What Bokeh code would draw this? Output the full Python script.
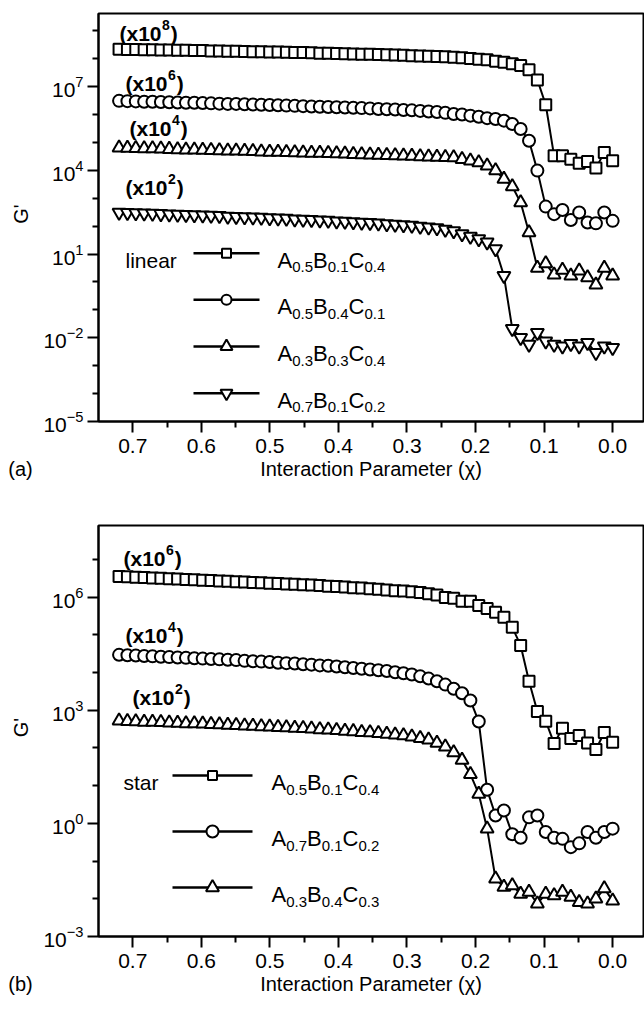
import re
import math
from bokeh.plotting import figure
from bokeh.models import Range1d, FixedTicker, PrintfTickFormatter, Label
from bokeh.layouts import column, row
from bokeh.embed import file_html
from bokeh.resources import INLINE

# ---------------- data ----------------
chi = [0.7200, 0.7078, 0.6956, 0.6834, 0.6712, 0.6590, 0.6468, 0.6346, 0.6224, 0.6102,
       0.5980, 0.5858, 0.5736, 0.5614, 0.5492, 0.5369, 0.5247, 0.5125, 0.5003, 0.4881,
       0.4759, 0.4637, 0.4515, 0.4393, 0.4271, 0.4149, 0.4027, 0.3905, 0.3783, 0.3661,
       0.3539, 0.3417, 0.3295, 0.3173, 0.3051, 0.2929, 0.2807, 0.2685, 0.2563, 0.2441,
       0.2319, 0.2197, 0.2075, 0.1953, 0.1831, 0.1708, 0.1586, 0.1464, 0.1342, 0.1220,
       0.1098, 0.0976, 0.0854, 0.0732, 0.0610, 0.0488, 0.0366, 0.0244, 0.0122, 0.0000]

# panel (a) linear: log10 of shifted G'
logG_lin_A5B1C4 = [8.34, 8.33, 8.33, 8.32, 8.32, 8.31, 8.31, 8.30, 8.30, 8.29,
                   8.29, 8.28, 8.28, 8.27, 8.27, 8.26, 8.25, 8.25, 8.24, 8.24,
                   8.23, 8.22, 8.22, 8.21, 8.20, 8.20, 8.19, 8.18, 8.17, 8.16,
                   8.16, 8.15, 8.14, 8.13, 8.12, 8.11, 8.10, 8.09, 8.08, 8.07,
                   8.05, 8.03, 8.01, 7.98, 7.96, 7.91, 7.87, 7.82, 7.76, 7.60,
                   7.24, 6.35, 4.52, 4.52, 4.40, 4.25, 4.32, 4.08, 4.64, 4.34]
logG_lin_A5B4C1 = [6.49, 6.48, 6.47, 6.46, 6.46, 6.45, 6.44, 6.43, 6.42, 6.42,
                   6.41, 6.40, 6.39, 6.38, 6.38, 6.37, 6.36, 6.35, 6.34, 6.33,
                   6.32, 6.31, 6.30, 6.29, 6.28, 6.27, 6.26, 6.25, 6.24, 6.23,
                   6.22, 6.20, 6.19, 6.18, 6.16, 6.15, 6.13, 6.11, 6.09, 6.06,
                   6.02, 6.00, 5.96, 5.92, 5.87, 5.84, 5.78, 5.66, 5.48, 5.06,
                   3.99, 2.70, 2.43, 2.58, 2.22, 2.49, 2.13, 2.10, 2.49, 2.19]
logG_lin_A3B3C4 = [4.81, 4.80, 4.79, 4.78, 4.78, 4.77, 4.76, 4.75, 4.74, 4.74,
                   4.73, 4.72, 4.71, 4.70, 4.70, 4.69, 4.68, 4.67, 4.66, 4.66,
                   4.65, 4.64, 4.63, 4.62, 4.62, 4.61, 4.60, 4.59, 4.58, 4.57,
                   4.56, 4.55, 4.54, 4.53, 4.52, 4.51, 4.50, 4.49, 4.48, 4.47,
                   4.46, 4.40, 4.34, 4.28, 4.16, 3.99, 3.69, 3.42, 2.85, 1.77,
                   0.50, 0.66, 0.26, 0.43, 0.22, 0.40, 0.16, -0.10, 0.50, 0.22]
logG_lin_A7B1C2 = [2.49, 2.48, 2.47, 2.46, 2.45, 2.44, 2.43, 2.42, 2.41, 2.40,
                   2.39, 2.38, 2.37, 2.35, 2.34, 2.33, 2.32, 2.31, 2.29, 2.28,
                   2.27, 2.25, 2.24, 2.23, 2.21, 2.20, 2.18, 2.17, 2.15, 2.13,
                   2.12, 2.10, 2.08, 2.06, 2.04, 2.02, 1.99, 1.96, 1.93, 1.88,
                   1.83, 1.72, 1.63, 1.54, 1.42, 1.18, 0.22, -1.68, -2.00, -2.24,
                   -1.82, -2.12, -2.24, -2.30, -2.21, -2.30, -2.18, -2.54, -2.30, -2.36]

# panel (b) star: log10 of shifted G'
logG_star_A5B1C4 = [6.55, 6.54, 6.53, 6.52, 6.51, 6.50, 6.49, 6.48, 6.47, 6.46,
                    6.45, 6.44, 6.43, 6.42, 6.41, 6.40, 6.39, 6.38, 6.37, 6.36,
                    6.35, 6.34, 6.33, 6.32, 6.31, 6.29, 6.28, 6.27, 6.25, 6.24,
                    6.22, 6.21, 6.19, 6.17, 6.16, 6.14, 6.12, 6.09, 6.06, 5.99,
                    5.97, 5.89, 5.89, 5.78, 5.70, 5.60, 5.47, 5.20, 4.72, 3.77,
                    2.97, 2.71, 2.12, 2.52, 2.25, 2.33, 2.13, 1.96, 2.41, 2.15]
logG_star_A7B1C2 = [4.47, 4.46, 4.45, 4.44, 4.43, 4.42, 4.41, 4.40, 4.39, 4.38,
                    4.37, 4.36, 4.35, 4.34, 4.33, 4.31, 4.30, 4.29, 4.28, 4.26,
                    4.25, 4.24, 4.22, 4.21, 4.19, 4.18, 4.16, 4.14, 4.12, 4.10,
                    4.08, 4.06, 4.04, 4.01, 3.98, 3.95, 3.90, 3.84, 3.77, 3.68,
                    3.57, 3.45, 3.26, 2.70, 0.89, 0.21, 0.34, -0.29, -0.38, 0.16,
                    0.21, -0.23, -0.38, -0.41, -0.63, -0.53, -0.23, -0.38, -0.23, -0.14]
logG_star_A3B4C3 = [2.72, 2.71, 2.70, 2.69, 2.69, 2.68, 2.67, 2.66, 2.65, 2.65,
                    2.64, 2.63, 2.62, 2.61, 2.60, 2.59, 2.58, 2.57, 2.56, 2.55,
                    2.54, 2.53, 2.52, 2.51, 2.49, 2.48, 2.47, 2.45, 2.44, 2.42,
                    2.41, 2.39, 2.37, 2.35, 2.33, 2.30, 2.26, 2.22, 2.13, 2.03,
                    1.88, 1.68, 1.30, 0.78, -0.14, -1.47, -1.69, -1.65, -1.87, -1.82,
                    -2.13, -1.87, -1.91, -1.82, -1.95, -2.09, -2.13, -2.00, -1.73, -2.05]

x_ticks = [0.0, 0.1, 0.2, 0.3, 0.4, 0.5, 0.6, 0.7]
x_minor = [0.05, 0.15, 0.25, 0.35, 0.45, 0.55, 0.65]
a_y_major = [1e-5, 1e-2, 1e1, 1e4, 1e7]
a_y_minor = [1e-4, 1e-3, 1e-1, 1e0, 1e2, 1e3, 1e5, 1e6, 1e8, 1e9]
b_y_major = [1e-3, 1e0, 1e3, 1e6]
b_y_minor = [1e-2, 1e-1, 1e1, 1e2, 1e4, 1e5, 1e7]

a_names = ["A0.5B0.1C0.4", "A0.5B0.4C0.1", "A0.3B0.3C0.4", "A0.7B0.1C0.2"]
a_shifts = ["8", "6", "4", "2"]
b_names = ["A0.5B0.1C0.4", "A0.7B0.1C0.2", "A0.3B0.4C0.3"]
b_shifts = ["6", "4", "2"]
x_label = "Interaction Parameter (\u03c7)"
y_label = "G'"

# ---------------- geometry / style ----------------
FONT = "Liberation Sans"
SIDE_W = 40
FW = 545
X0, X1 = 0.75, -0.045
FRAME_LEFT = 96          # page x of the frame's left edge
BELOW = 61               # height of the x-axis block under each frame
PANELS = {
    "a": dict(top=13, fh=408, ylo=-5.0, yhi=9.62, border_top=13),
    "b": dict(top=525, fh=411, ylo=-3.0, yhi=7.9, border_top=525 - (13 + 408 + BELOW)),
}

REG = {'A': .667, 'B': .667, 'C': .722, '.': .278, '(': .333, ')': .333, 'x': .5}
BOLD = {'(': .333, ')': .333, 'x': .556, '.': .278}


def tw(s, size, bold=False):
    tab = BOLD if bold else REG
    return sum(tab.get(c, .556) for c in s) * size


def to_data(panel, px, py):
    g = PANELS[panel]
    x = X0 + (px - FRAME_LEFT) / FW * (X1 - X0)
    ly = g["yhi"] - (py - g["top"]) / g["fh"] * (g["yhi"] - g["ylo"])
    return x, 10 ** ly


def put(p, panel, px, py, text, size, bold=False):
    x, y = to_data(panel, px, py)
    p.add_layout(Label(x=x, y=y, text=text, text_font=FONT,
                       text_font_size=f"{size}px",
                       text_font_style="bold" if bold else "normal",
                       text_baseline="alphabetic", text_align="left",
                       text_color="black"))


def formula(p, panel, px, pyc, name):
    x = px
    for el, sub in re.findall(r"([A-Z])([0-9.]+)", name):
        put(p, panel, x, pyc + 7, el, 22)
        x += tw(el, 22)
        put(p, panel, x, pyc + 14, sub, 15)
        x += tw(sub, 15)


def shift_tag(p, panel, px, pyc, expo):
    put(p, panel, px, pyc + 7, "(x10", 21, True)
    x = px + tw("(x10", 21, True) + 0.5
    put(p, panel, x, pyc - 2, expo, 14, True)
    x += tw(expo, 14, True) + 1
    put(p, panel, x, pyc + 7, ")", 21, True)


def style_axis(ax):
    ax.axis_line_width = 2
    ax.axis_line_color = "black"
    ax.major_tick_line_width = 2
    ax.minor_tick_line_width = 2
    ax.major_tick_line_color = "black"
    ax.minor_tick_line_color = "black"
    ax.major_tick_out = 11
    ax.major_tick_in = 0
    ax.minor_tick_out = 6
    ax.minor_tick_in = 0
    ax.major_label_text_font = FONT
    ax.major_label_text_font_size = "21px"
    ax.major_label_text_color = "black"
    ax.major_label_standoff = 4
    ax.axis_label_text_font = FONT
    ax.axis_label_text_font_size = "20px"
    ax.axis_label_text_font_style = "normal"
    ax.axis_label_text_color = "black"
    ax.axis_label_standoff = 0


def make_fig(panel, y_major, y_minor):
    g = PANELS[panel]
    p = figure(frame_width=FW, frame_height=g["fh"],
               x_range=Range1d(X0, X1),
               y_range=Range1d(10 ** g["ylo"], 10 ** g["yhi"]),
               y_axis_type="log", output_backend="svg", toolbar_location=None,
               min_border_left=FRAME_LEFT - SIDE_W, min_border_right=3,
               min_border_top=g["border_top"], min_border_bottom=0,
               background_fill_color="white", border_fill_color="white")
    p.grid.visible = False
    p.outline_line_color = "black"
    p.outline_line_width = 2
    p.xaxis.ticker = FixedTicker(ticks=x_ticks, minor_ticks=x_minor)
    p.xaxis.formatter = PrintfTickFormatter(format="%.1f")
    p.yaxis.ticker = FixedTicker(ticks=y_major, minor_ticks=y_minor)
    p.xaxis.axis_label = x_label
    style_axis(p.xaxis[0])
    style_axis(p.yaxis[0])
    p.xaxis[0].major_label_standoff = 6
    p.xaxis[0].axis_label_standoff = 2
    return p


def side_fig(panel, tag):
    """Narrow strip left of the plot: G' title, and the panel tag on the x-title row."""
    g = PANELS[panel]
    height = g["border_top"] + g["fh"] + BELOW
    s = figure(width=SIDE_W, height=height, x_range=Range1d(0, SIDE_W), y_range=Range1d(0, 1),
               output_backend="svg", toolbar_location=None, min_border=0,
               min_border_top=g["border_top"],
               y_axis_location=None,
               background_fill_color="white", border_fill_color="white")
    s.outline_line_color = None
    s.grid.visible = False
    ax = s.xaxis[0]
    ax.ticker = FixedTicker(ticks=[], minor_ticks=[])
    ax.axis_line_color = None
    ax.major_tick_out = 0
    ax.major_tick_in = 0
    ax.minor_tick_out = 0
    ax.minor_tick_in = 0
    ax.major_label_standoff = 0
    ax.axis_label = tag
    ax.axis_label_standoff = 43
    ax.axis_label_text_font = FONT
    ax.axis_label_text_font_size = "20px"
    ax.axis_label_text_font_style = "normal"
    ax.axis_label_text_color = "black"
    s.add_layout(Label(x=20, y=0.5, text=y_label, angle=math.pi / 2,
                       text_font=FONT, text_font_size="20px",
                       text_align="center", text_baseline="middle", text_color="black"))
    return s


def series(p, logs, marker, size):
    ys = [10 ** v for v in logs]
    p.line(chi, ys, line_color="black", line_width=2)
    p.scatter(chi, ys, marker=marker, size=size, fill_color="white",
              line_color="black", line_width=2)


def legend_row(p, panel, pyc, x0, x1, marker, msize, name, xt):
    xa, y = to_data(panel, x0, pyc)
    xb, _ = to_data(panel, x1, pyc)
    xm, _ = to_data(panel, (x0 + x1) / 2, pyc)
    p.line([xa, xb], [y, y], line_color="black", line_width=2.5)
    p.scatter([xm], [y], marker=marker, size=msize, fill_color="white",
              line_color="black", line_width=2)
    formula(p, panel, xt, pyc, name)


# ---------------- panel (a) ----------------
pa = make_fig("a", a_y_major, a_y_minor)
a_markers = [("square", 11, 9), ("circle", 12, 10), ("triangle", 13, 12), ("inverted_triangle", 13, 12)]
for logs, (m, s, _) in zip([logG_lin_A5B1C4, logG_lin_A5B4C1, logG_lin_A3B3C4, logG_lin_A7B1C2], a_markers):
    series(pa, logs, m, s)
for pyc, (m, _, ms), name in zip([252.7, 299.3, 346, 392.7], a_markers, a_names):
    legend_row(pa, "a", pyc, 191, 257, m, ms, name, 275)
put(pa, "a", 123, 252.7 + 7, "linear", 21)
for (px, pyc), e in zip([(117, 26), (123, 76), (127, 121), (123, 180)], a_shifts):
    shift_tag(pa, "a", px, pyc, e)

# ---------------- panel (b) ----------------
pb = make_fig("b", b_y_major, b_y_minor)
b_markers = [("square", 11, 9), ("circle", 12, 12), ("triangle", 13, 13)]
for logs, (m, s, _) in zip([logG_star_A5B1C4, logG_star_A7B1C2, logG_star_A3B4C3], b_markers):
    series(pb, logs, m, s)
for pyc, (m, _, ms), name in zip([775, 831, 887], b_markers, b_names):
    legend_row(pb, "b", pyc, 170, 250, m, ms, name, 269)
put(pb, "b", 121, 775 + 7, "star", 21)
for (px, pyc), e in zip([(121, 551), (123, 628), (130, 690)], b_shifts):
    shift_tag(pb, "b", px, pyc, e)

layout = column(row(side_fig("a", "(a)"), pa), row(side_fig("b", "(b)"), pb))
open("out.html", "w").write(file_html(layout, INLINE))
